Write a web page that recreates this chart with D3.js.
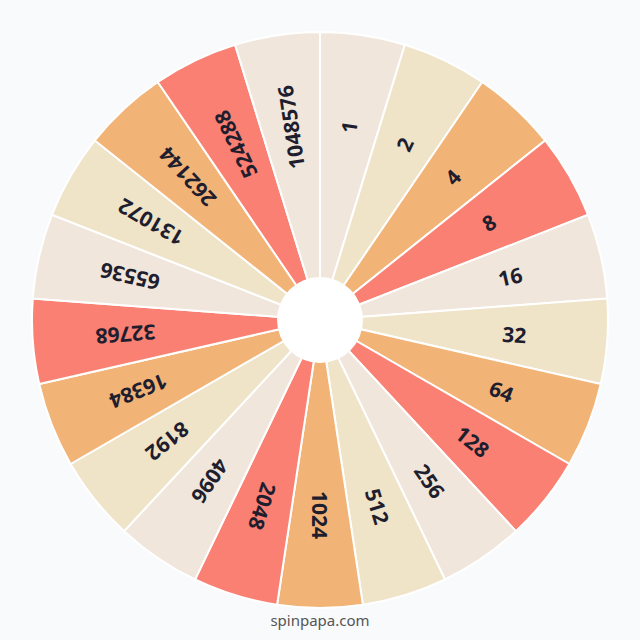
<!DOCTYPE html>
<html><head><meta charset="utf-8">
<script src="https://cdn.jsdelivr.net/npm/d3@7"></script>
<style>body{margin:0;background:#f8fafc;}</style></head>
<body><svg id="c" width="640" height="640"></svg>
<script>
const labels = ["1","2","4","8","16","32","64","128","256","512","1024","2048","4096","8192","16384","32768","65536","131072","262144","524288","1048576"];
const palette = ["#f0e6dc","#efe3c8","#f2b377","#f98072"];
const svg = d3.select("#c");
svg.append("rect").attr("width",640).attr("height",640).attr("fill","#f8fafc");
const g = svg.append("g").attr("transform","translate(320,320)");
const pie = d3.pie().value(1).sort(null);
const arcs = pie(labels);
const arc = d3.arc().innerRadius(0).outerRadius(288);
g.selectAll("path").data(arcs).join("path")
 .attr("d",arc).attr("fill",(d,i)=>palette[i%4]).attr("stroke","#fff").attr("stroke-width",2);
g.selectAll("text").data(arcs).join("text")
 .attr("transform",d=>{const a=(d.startAngle+d.endAngle)/2; const deg=a*180/Math.PI;
   return `translate(${195*Math.sin(a)},${-195*Math.cos(a)}) rotate(${deg-90})`;})
 .attr("text-anchor","middle").attr("dominant-baseline","central")
 .attr("font-family","Noto Sans, sans-serif").attr("font-weight","bold").attr("font-size",21)
 .attr("fill","#1e1e2e").text(d=>d.data);
g.append("circle").attr("r",43).attr("fill","#fff");
svg.append("text").attr("x",320).attr("y",626).attr("text-anchor","middle")
 .attr("font-family","Noto Sans, sans-serif").attr("font-size",15).attr("fill","#555").text("spinpapa.com");
</script></body></html>
